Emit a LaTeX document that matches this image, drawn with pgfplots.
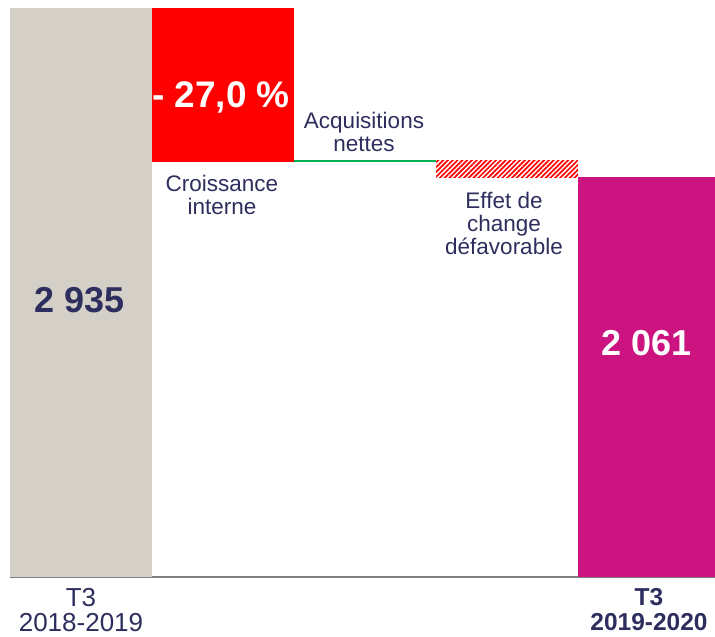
\documentclass[border=0pt]{standalone}
\usepackage{pgfplots}
\pgfplotsset{compat=1.18}
\usepackage{fontspec}
\setmainfont{Liberation Sans}
\usetikzlibrary{patterns.meta}
\definecolor{navy}{RGB}{46,46,94}
\definecolor{barGray}{RGB}{212,208,200}
\definecolor{magentaBar}{RGB}{204,20,128}
\definecolor{greenLine}{RGB}{0,176,80}
\definecolor{axisGray}{RGB}{128,128,128}
\begin{document}
\begin{tikzpicture}
\useasboundingbox (0,0) rectangle (715pt,637pt);
\begin{axis}[
  at={(10pt,60pt)}, anchor=south west,
  scale only axis, width=710pt, height=569pt,
  xmin=-0.5, xmax=4.5, ymin=0, ymax=2935,
  ybar stacked, bar width=1,
  axis x line=bottom, axis y line=none,
  x axis line style={draw=axisGray, line width=2pt, -},
  xtick={0,4},
  xticklabels={{T3\\2018-2019},
               {{\fontsize{24.5}{25}\selectfont\bfseries T3}\\{\fontsize{24.5}{25}\selectfont\bfseries 2019-2020}}},
  xticklabel style={align=center, anchor=north, inner sep=0pt, yshift=-11pt, text=navy, font=\fontsize{26}{25}\selectfont},
  major tick length=0pt,
  ytick=\empty,
  clip=false,
]
% invisible base of the floating bars
\addplot[draw=none, fill=none] coordinates {(0,0) (1,2142.5) (2,2142.5) (3,2061) (4,0)};
% start value
\addplot[draw=none, fill=barGray] coordinates {(0,2935) (1,0) (2,0) (3,0) (4,0)};
% internal growth (drop)
\addplot[draw=none, fill=red] coordinates {(0,0) (1,792.5) (2,0) (3,0) (4,0)};
% net acquisitions
\addplot[draw=none, fill=greenLine] coordinates {(0,0) (1,0) (2,6) (3,0) (4,0)};
% unfavourable FX effect
\addplot[draw=none, pattern={Lines[angle=45,distance=3.4pt,line width=1.7pt]}, pattern color=red] coordinates {(0,0) (1,0) (2,0) (3,86.5) (4,0)};
% end value
\addplot[draw=none, fill=magentaBar] coordinates {(0,0) (1,0) (2,0) (3,0) (4,2061)};

\coordinate (lStart) at (axis cs:0,1429);
\coordinate (lDrop) at (axis cs:1,2476);
\coordinate (lEnd) at (axis cs:4,1207);
\coordinate (lCI) at (axis cs:1,1973);
\coordinate (lAN) at (axis cs:2,2298);
\coordinate (lFX) at (axis cs:3,1826);
\end{axis}
\node[text=navy, font=\fontsize{36}{36}\selectfont\bfseries] at ([xshift=-1pt]lStart) {2 935};
\node[text=white, font=\fontsize{37}{37}\selectfont\bfseries] at ([xshift=-2pt]lDrop) {- 27,0 \%};
\node[text=white, font=\fontsize{36}{36}\selectfont\bfseries] at ([xshift=-2pt]lEnd) {2 061};
\node[text=navy, align=center, font=\fontsize{22.5}{23}\selectfont] at ([xshift=-1pt]lCI) {Croissance\\interne};
\node[text=navy, align=center, font=\fontsize{22.5}{23}\selectfont] at ([xshift=-1pt]lAN) {Acquisitions\\nettes};
\node[text=navy, align=center, font=\fontsize{22.5}{23}\selectfont] at ([xshift=-3pt]lFX) {Effet de\\change\\défavorable};
\end{tikzpicture}
\end{document}
